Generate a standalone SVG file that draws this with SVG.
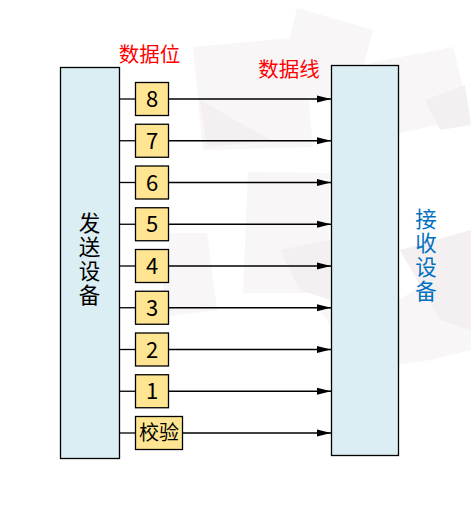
<svg xmlns="http://www.w3.org/2000/svg" width="471" height="531" viewBox="0 0 471 531">
<defs>
<style>
.dev{fill:#DAEEF3;stroke:#000;stroke-width:1.3}
.bit{fill:#FFE591;stroke:#000;stroke-width:1.3}
.wire{stroke:#000;stroke-width:1.3;fill:none}
.t{font-family:"Noto Sans CJK SC","Microsoft YaHei",sans-serif;text-anchor:middle}
.vt{font-family:"Noto Sans CJK SC","Microsoft YaHei",sans-serif;text-anchor:middle;writing-mode:vertical-rl;font-size:21.5px;letter-spacing:2.5px}
.bt{font-size:22px;fill:#000}
.bg1{fill:#f4f1f1}
.bg2{fill:#ede6e7}
</style>
<marker id="ah" markerUnits="userSpaceOnUse" markerWidth="15" markerHeight="8" refX="14" refY="4" orient="auto">
<path d="M0,0.5 L14,4 L0,7.5 Z" fill="#000"/>
</marker>
</defs>
<rect width="471" height="531" fill="#fff"/>
<g id="background" opacity="0.6">
<polygon class="bg1" points="297,8 373,30 352,110 278,88"/>
<polygon class="bg1" points="193,47 303,37 313,147 203,150"/>
<polygon class="bg1" points="248,172 330,173 328,293 243,293"/>
<polygon class="bg1" points="370,63 453,47 470,117 400,133"/>
<polygon class="bg1" points="170,233 207,233 217,310 160,317"/>
<polygon class="bg1" points="400,300 471,250 471,350 430,360"/>
<polygon class="bg1" points="320,310 400,300 430,360 360,370"/>
<polygon class="bg2" points="200,100 270,140 207,147"/>
<polygon class="bg2" points="425,100 465,85 471,125 440,130"/>
<polygon class="bg2" points="280,250 330,240 330,300 300,290"/>
<polygon class="bg2" points="400,250 471,230 471,330 440,320"/>
</g>
<g id="sender">
<rect class="dev" x="60.5" y="67.5" width="59" height="391"/>
<text class="vt" x="89.5" y="260" fill="#000">发送设备</text>
</g>
<g id="receiver">
<rect class="dev" x="331.5" y="65.5" width="67" height="390"/>
<text class="vt" x="426" y="256" fill="#0070C0">接收设备</text>
</g>
<g id="labels">
<text class="t" x="149.5" y="62" font-size="20.5" fill="#FF0000">数据位</text>
<text class="t" x="289" y="77" font-size="20.5" fill="#FF0000">数据线</text>
</g>
<g id="connectors">
<line class="wire" x1="119.5" y1="99" x2="135.5" y2="99"/>
<line class="wire" x1="168.5" y1="99" x2="331" y2="99" marker-end="url(#ah)"/>
<line class="wire" x1="119.5" y1="140.75" x2="135.5" y2="140.75"/>
<line class="wire" x1="168.5" y1="140.75" x2="331" y2="140.75" marker-end="url(#ah)"/>
<line class="wire" x1="119.5" y1="182.5" x2="135.5" y2="182.5"/>
<line class="wire" x1="168.5" y1="182.5" x2="331" y2="182.5" marker-end="url(#ah)"/>
<line class="wire" x1="119.5" y1="224.25" x2="135.5" y2="224.25"/>
<line class="wire" x1="168.5" y1="224.25" x2="331" y2="224.25" marker-end="url(#ah)"/>
<line class="wire" x1="119.5" y1="266" x2="135.5" y2="266"/>
<line class="wire" x1="168.5" y1="266" x2="331" y2="266" marker-end="url(#ah)"/>
<line class="wire" x1="119.5" y1="307.75" x2="135.5" y2="307.75"/>
<line class="wire" x1="168.5" y1="307.75" x2="331" y2="307.75" marker-end="url(#ah)"/>
<line class="wire" x1="119.5" y1="349.5" x2="135.5" y2="349.5"/>
<line class="wire" x1="168.5" y1="349.5" x2="331" y2="349.5" marker-end="url(#ah)"/>
<line class="wire" x1="119.5" y1="391.25" x2="135.5" y2="391.25"/>
<line class="wire" x1="168.5" y1="391.25" x2="331" y2="391.25" marker-end="url(#ah)"/>
<line class="wire" x1="119.5" y1="433" x2="135.5" y2="433"/>
<line class="wire" x1="182.5" y1="433" x2="331" y2="433" marker-end="url(#ah)"/>
</g>
<g id="bit8"><rect class="bit" x="135.5" y="82.5" width="33" height="33"/><text class="t bt" x="152" y="107">8</text></g>
<g id="bit7"><rect class="bit" x="135.5" y="124.25" width="33" height="33"/><text class="t bt" x="152" y="148.75">7</text></g>
<g id="bit6"><rect class="bit" x="135.5" y="166" width="33" height="33"/><text class="t bt" x="152" y="190.5">6</text></g>
<g id="bit5"><rect class="bit" x="135.5" y="207.75" width="33" height="33"/><text class="t bt" x="152" y="232.25">5</text></g>
<g id="bit4"><rect class="bit" x="135.5" y="249.5" width="33" height="33"/><text class="t bt" x="152" y="274">4</text></g>
<g id="bit3"><rect class="bit" x="135.5" y="291.25" width="33" height="33"/><text class="t bt" x="152" y="315.75">3</text></g>
<g id="bit2"><rect class="bit" x="135.5" y="333" width="33" height="33"/><text class="t bt" x="152" y="357.5">2</text></g>
<g id="bit1"><rect class="bit" x="135.5" y="374.75" width="33" height="33"/><text class="t bt" x="152" y="399.25">1</text></g>
<g id="parity"><rect class="bit" x="135.5" y="416.5" width="47" height="33"/><text class="t" x="159" y="440" font-size="20" fill="#000">校验</text></g>
</svg>
